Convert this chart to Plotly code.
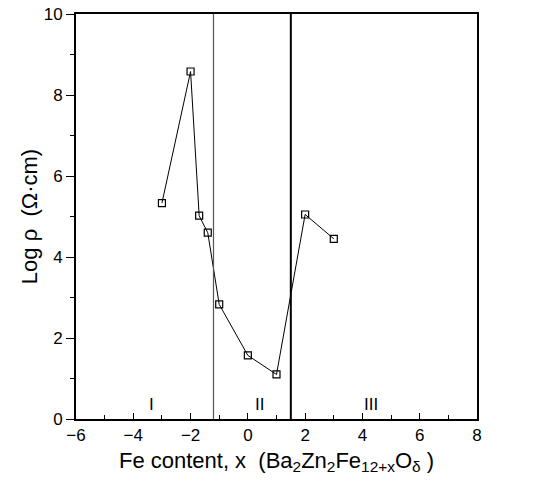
import plotly.graph_objects as go

x_vals = [-3, -2, -1.7, -1.4, -1, 0, 1, 2, 3]
log_rho = [5.33, 8.58, 5.02, 4.6, 2.83, 1.57, 1.1, 5.05, 4.45]
boundaries = [-1.2, 1.5]
boundary_widths = [1.2, 2]
boundary_colors = ["#555555", "#000000"]
region_labels = ["I", "II", "III"]
region_x = [-3.35, 0.4, 4.3]
region_y = [0.35, 0.35, 0.35]

fig = go.Figure()
fig.add_trace(go.Scatter(
    x=x_vals, y=log_rho, mode="lines+markers",
    line=dict(color="black", width=1),
    marker=dict(symbol="square-open", size=7, color="black", line=dict(width=1.2)),
    showlegend=False))

for b, w, c in zip(boundaries, boundary_widths, boundary_colors):
    fig.add_shape(type="line", x0=b, x1=b, y0=0, y1=10, xref="x", yref="y",
                  line=dict(color=c, width=w))

for t, xx, yy in zip(region_labels, region_x, region_y):
    fig.add_annotation(x=xx, y=yy, text=t, showarrow=False,
                       font=dict(size=16, color="black", family="DejaVu Sans"))

font = dict(family="Liberation Sans", size=17, color="black")
fig.update_layout(
    width=536, height=489,
    margin=dict(l=76, r=59, t=14, b=70),
    paper_bgcolor="white", plot_bgcolor="white",
    font=font,
    xaxis=dict(range=[-6, 8], tickvals=[-6, -4, -2, 0, 2, 4, 6, 8],
               ticktext=["\u22126", "\u22124", "\u22122", "0", "2", "4", "6", "8"],
               ticks="inside", ticklen=6, tickwidth=1.2, tickcolor="black",
               minor=dict(tickvals=[-5, -3, -1, 1, 3, 5, 7], ticks="inside", ticklen=4, tickcolor="black"),
               showline=True, linecolor="black", linewidth=2, mirror=True,
               showgrid=False, zeroline=False, automargin=False,
               title=dict(text="Fe content, x  (Ba<sub>2</sub>Zn<sub>2</sub>Fe<sub>12+x</sub>O<sub>\u03b4</sub> )",
                          font=dict(size=22), standoff=8)),
    yaxis=dict(range=[0, 10], tickvals=[0, 2, 4, 6, 8, 10],
               ticks="outside", ticklen=8, tickwidth=1.2, tickcolor="black",
               minor=dict(tickvals=[1, 3, 5, 7, 9], ticks="outside", ticklen=4, tickcolor="black"),
               showline=True, linecolor="black", linewidth=2, mirror=True,
               showgrid=False, zeroline=False, automargin=False,
               title=dict(text="Log \u03c1  (\u03a9\u00b7cm)", font=dict(size=22), standoff=0)),
)
fig.write_html("out.html", config={"displayModeBar": False},
               post_script="document.body.style.margin='0';")
